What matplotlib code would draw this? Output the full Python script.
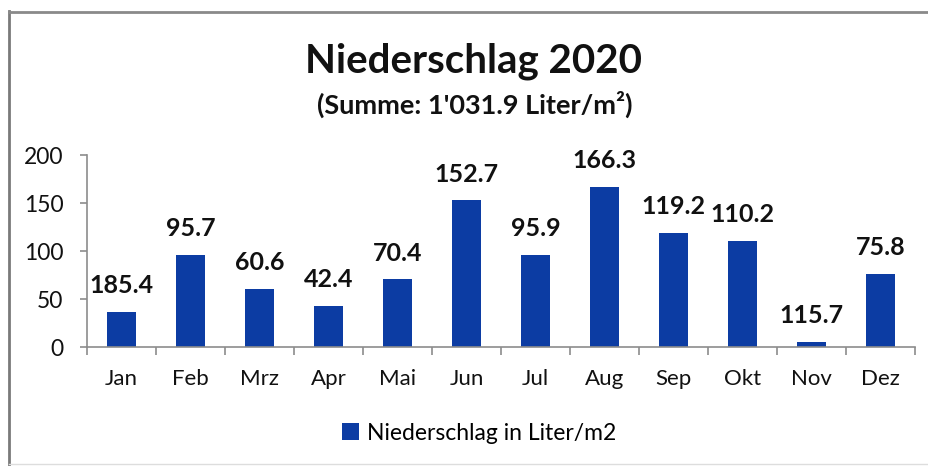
import numpy as np
import matplotlib.pyplot as plt
from matplotlib.lines import Line2D

plt.rcParams['font.family'] = ['Lato', 'DejaVu Sans']

# monthly values as drawn (bar heights) and the printed data labels
months = ["Jan", "Feb", "Mrz", "Apr", "Mai", "Jun", "Jul", "Aug", "Sep", "Okt", "Nov", "Dez"]
rain = [36.5, 95.7, 60.6, 42.4, 70.4, 152.7, 95.9, 166.3, 119.2, 110.2, 5.0, 75.8]
labels = ["185.4", "95.7", "60.6", "42.4", "70.4", "152.7", "95.9", "166.3",
          "119.2", "110.2", "115.7", "75.8"]
yticks = [0, 50, 100, 150, 200]

blue = "#0c3ca3"
grey = "#8c8c8c"

fig = plt.figure(figsize=(9.29, 4.66), dpi=100)
ax = fig.add_axes([87/929, 1-347/466, (915-87)/929, (347-155)/466])

x = np.arange(len(months))
bars = ax.bar(x, rain, width=0.41, color=blue, label="Niederschlag in Liter/m2")

for xi, yi, lab in zip(x, rain, labels):
    ax.annotate(lab, (xi, yi), xytext=(0, 19), textcoords="offset points",
                ha="center", va="center", fontsize=18, fontweight="bold",
                color="#111111", annotation_clip=False)

ax.set_xlim(-0.5, 11.5)
ax.set_ylim(0, 200)
ax.set_yticks(yticks)
ax.set_xticks(x)
ax.set_xticklabels(months)
ax.set_xticks(np.arange(-0.5, 12, 1), minor=True)
ax.tick_params(axis="x", which="major", length=0, pad=16, labelsize=16, colors="#111111")
ax.tick_params(axis="x", which="minor", length=6, width=1.2, direction="out", color=grey)
ax.tick_params(axis="y", length=5, width=1.2, color=grey, pad=12, labelsize=16.5, labelcolor="#111111")

for s in ["top", "right"]:
    ax.spines[s].set_visible(False)
for s in ["left", "bottom"]:
    ax.spines[s].set_color(grey)
    ax.spines[s].set_linewidth(1.2)

fig.text(474/929, 1-61/466, "Niederschlag 2020", ha="center", va="center",
         fontsize=29, fontweight="bold", color="#111111")
fig.text(475/929, 1-104/466, "(Summe: 1'031.9 Liter/m²)", ha="center", va="center",
         fontsize=19.5, fontweight="bold", color="#111111")

fig.legend(handles=[bars], loc="center", bbox_to_anchor=(479/929, 1-433/466),
           frameon=False, fontsize=16.5, handlelength=0.75, handleheight=0.75,
           handletextpad=0.35)

# scanned frame lines
fig.add_artist(Line2D([9/929, 9/929], [0, 1-11/466], color="#7a7a7a", lw=2))
fig.add_artist(Line2D([9/929, 1], [1-12/466, 1-12/466], color="#8a8a8a", lw=2))
fig.add_artist(Line2D([9/929, 1], [1-464/466, 1-464/466], color="#dddddd", lw=1))

fig.savefig("out.png", dpi=100, facecolor="white")
